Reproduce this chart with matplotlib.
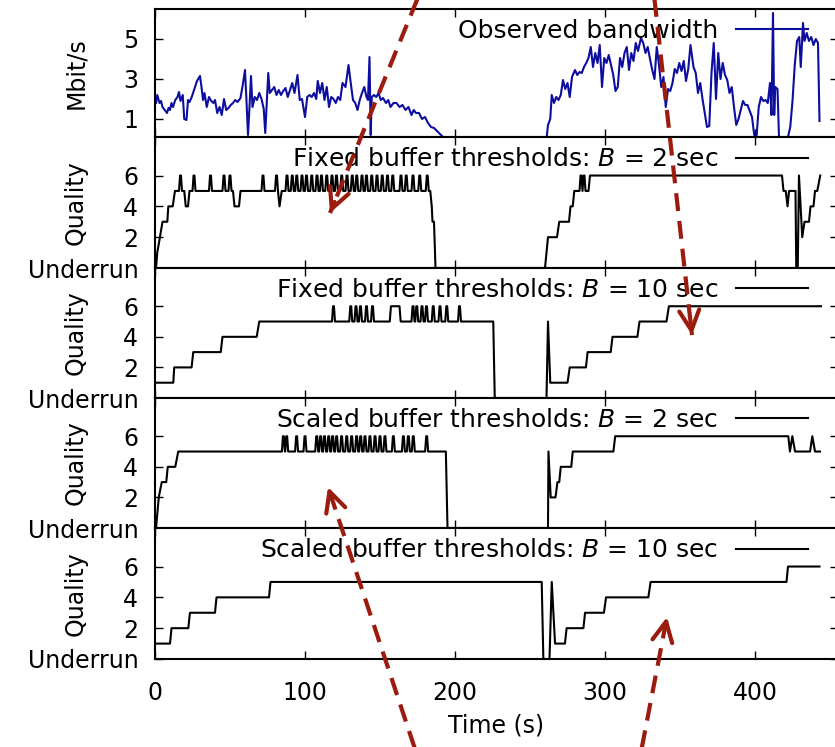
import matplotlib
matplotlib.use("Agg")
import matplotlib.pyplot as plt
from matplotlib.lines import Line2D
from matplotlib.patches import FancyArrowPatch

plt.rcParams['font.family'] = ['DejaVu Sans']
plt.rcParams['mathtext.fontset'] = 'dejavusans'

# observed bandwidth (Mbit/s) against time (s)
bw_t = [0.7, 1.5, 3, 4, 5, 6.5, 8, 9, 10, 11, 12, 13.5, 15, 16, 17, 18.5, 19.5, 21, 22, 23,
        24.5, 26, 28, 30, 31, 32, 33, 34.5, 36, 37.5, 39, 40, 41.5, 43, 44.5, 46, 47.5, 49,
        50.5, 52, 53.5, 55, 57, 58.5, 60, 61, 62, 63, 64, 65, 66.5, 68, 69.5, 71, 72.5, 73.5,
        75.5, 76.5, 78, 79.5, 81, 82.5, 84, 85.5, 87, 88.5, 90, 91.5, 93, 95, 96.5, 98, 100,
        101.5, 103, 104.5, 106, 107.5, 108.5, 110, 111.5, 113, 114.5, 116, 117.5, 119, 120.5,
        122, 123.5, 125, 127, 129, 130.5, 132, 133.5, 135, 136.5, 138, 139.5, 141, 142, 143,
        143.8, 144.5, 146, 147.5, 149, 150.5, 152, 154, 155.5, 157, 159, 161, 163, 165, 167,
        169, 171, 172.5, 174, 176, 178, 180, 182, 184, 186, 188, 190, 192, 193,
        261, 262, 263.5, 264.5, 266, 267.5, 269, 270.5, 272, 273.5, 275, 276.5, 278, 280,
        281.5, 283, 284.5, 286, 287.5, 289, 290.5, 292, 293.5, 295, 296.5, 298, 299.5, 301,
        302.5, 304, 305.5, 307, 308.5, 310, 311.5, 313, 314.5, 316, 317.5, 319, 320.5, 322,
        324, 325.5, 327, 328.5, 330, 331.5, 333, 334.5, 336, 337.5, 339, 340.5, 342, 343.5,
        345, 346.5, 348, 349.5, 351, 352.5, 354, 355.5, 357, 359, 360.5, 362, 363.5, 365,
        366.5, 368, 369.5, 371, 372.5, 374, 375.5, 377, 378.5, 380, 381.5, 383, 384.5, 386,
        387.5, 389, 390.5, 392, 393.5, 395, 396.5, 398, 399.5, 401, 402.5, 404, 405.5, 407,
        408.5, 410, 411, 412, 412.8, 413.5, 415, 416, 419, 422, 423.5, 425, 426.5, 428,
        429.5, 430.5, 432, 433, 434.5, 436, 437.5, 439, 440.5, 442, 443]
bw_v = [1.8, 2.2, 1.8, 1.9, 1.6, 1.45, 1.3, 1.55, 1.45, 1.8, 1.6, 1.95, 2.1, 2.35, 1.9, 2.2,
        1.0, 0.95, 1.95, 1.85, 2.1, 2.45, 2.9, 3.15, 2.6, 1.95, 2.3, 1.6, 2.1, 1.9, 1.8, 1.95,
        1.3, 1.6, 1.2, 2.0, 1.45, 1.55, 1.7, 1.8, 1.95, 1.85, 2.05, 2.7, 3.45, 1.9, 0.2, 1.6,
        3.15, 1.6, 2.1, 1.95, 2.3, 2.0, 1.5, 0.3, 3.3, 2.3, 2.45, 2.6, 2.2, 2.45, 2.2, 2.4,
        2.55, 2.1, 2.45, 2.8, 2.3, 3.2, 1.95, 2.0, 1.1, 2.1, 2.2, 2.1, 2.3, 2.0, 2.9, 2.3,
        2.8, 1.95, 2.6, 1.6, 2.1, 2.0, 1.8, 2.1, 1.95, 2.8, 2.6, 3.7, 2.8, 1.95, 1.8, 1.45,
        1.95, 2.3, 2.6, 2.1, 1.95, 4.1, 0.2, 2.1, 2.2, 2.1, 2.3, 1.95, 2.05, 1.8, 1.95, 1.6,
        1.8, 1.8, 1.6, 1.7, 1.45, 1.6, 1.2, 1.45, 1.3, 1.3, 1.0, 1.1, 0.8, 0.6, 0.55, 0.4,
        0.25, 0.1, 0.0,
        0.0, 0.7, 1.0, 2.2, 1.8, 2.1, 1.95, 2.2, 2.95, 2.5, 2.8, 2.1, 3.1, 3.45, 3.2, 3.35,
        3.3, 3.6, 3.8, 4.05, 4.6, 3.6, 4.3, 3.8, 4.7, 2.6, 4.05, 3.8, 4.2, 3.7, 3.2, 2.4, 2.6,
        4.05, 3.6, 4.3, 4.6, 3.45, 4.3, 3.9, 4.8, 4.4, 5.05, 4.8, 4.3, 4.6, 4.0, 3.45, 3.0,
        4.6, 3.7, 2.6, 3.1, 1.6, 2.5, 2.4, 2.8, 3.5, 3.3, 3.8, 3.4, 3.9, 2.9, 3.5, 4.7, 3.6,
        3.3, 2.3, 2.8, 2.0, 1.3, 0.6, 0.65, 3.3, 4.8, 2.0, 4.3, 3.0, 3.8, 3.2, 2.95, 2.3, 2.6,
        1.6, 0.7, 1.0, 1.45, 1.9, 1.7, 1.7, 1.4, 1.1, 0.2, 0.1, 1.6, 2.1, 1.9, 1.95, 1.8,
        2.8, 1.2, 6.3, 1.2, 2.6, 2.5, 0.1, 0.0, 0.1, 0.6, 1.9, 3.7, 4.9, 5.1, 3.6, 5.8, 4.9,
        5.3, 4.9, 5.1, 4.7, 5.0, 4.8, 0.9]

# quality level (0 = underrun) step breakpoints, plus short 5 -> 6 -> 5 excursions
fixed2_t = [0.7, 1.5, 3.3, 5, 8.2, 8.9, 11.8, 13.3, 19.5, 20.5, 22, 23, 52, 53, 56, 57, 82,
            83, 84.5, 183.5, 184.5, 185, 186, 187, 260, 261, 262, 268, 269.5, 276, 277,
            278.5, 279.5, 289, 290, 418, 419, 420.5, 421.7, 422.7, 427, 427.5, 428.5, 429.3,
            431.5, 433, 436, 437, 439, 440, 441.5, 443.5]
fixed2_q = [0, 1, 2, 3, 3, 4, 4, 5, 5, 4, 4, 5, 5, 4, 4, 5, 5,
            4, 5, 5, 4, 3, 3, 0, 0, 1, 2, 2, 3, 3, 4,
            4, 5, 5, 6, 6, 5, 5, 4, 5, 5, 0, 0, 6,
            2, 3, 3, 4, 4, 5, 5, 6]
fixed2_peaks = [17, 26, 37, 46, 50, 72, 81, 88, 91.5, 94.5, 98, 101, 104.5, 108, 111, 114.5,
                118, 121, 124.5, 128, 131.5, 134.5, 138, 141, 144.5, 148, 151.5, 155, 158.5,
                164, 167.5, 172, 176.5, 181.5, 284, 286]

fixed10_t = [0.7, 12.2, 12.8, 24.4, 25.5, 43.8, 45, 67.8, 69.5, 156.5, 157.3, 163, 163.8,
             225.5, 226.5, 261, 262, 263.5, 275, 276.5, 287.3, 288.4, 303.8, 305, 321.6,
             323, 341, 342.6, 444]
fixed10_q = [1, 1, 2, 2, 3, 3, 4, 4, 5, 5, 6, 6, 5,
             5, 0, 0, 5, 1, 1, 2, 2, 3, 3, 4, 4,
             5, 5, 6, 6]
fixed10_peaks = [119, 130.5, 134, 137, 141, 145, 172, 174.5, 178, 181, 185.5, 190, 194.5, 203]

scaled2_t = [0.7, 2.5, 4.5, 7.5, 8.5, 13.5, 15.5, 193.9, 195, 262, 262.3, 263.8, 267,
             268.3, 269.5, 270.5, 277.5, 278.5, 305.6, 306.8, 422.2, 423.3, 424.9, 426.7,
             436.7, 438.2, 440, 443.3]
scaled2_q = [0, 2, 3, 3, 4, 4, 5, 5, 0, 0, 5, 2, 2,
             3, 3, 4, 4, 5, 5, 6, 6, 5, 6, 5,
             5, 6, 5, 5]
scaled2_peaks = [85.6, 87.8, 94.4, 100, 107.8, 110.4, 113, 115.8, 118.4, 121.1, 124.4,
                 127.8, 131.1, 134.4, 137.1, 140, 143.3, 146.7, 150, 153.3, 158.9, 165.6,
                 168.9, 172.2, 181.1]

scaled10_t = [0.7, 10, 11, 22.2, 23.3, 40, 41, 76, 77, 257.8, 258.9, 263, 264.5, 266.7,
              273.3, 274.4, 285.6, 286.7, 299.3, 300.7, 328.9, 330.4, 421, 422, 443]
scaled10_q = [1, 1, 2, 2, 3, 3, 4, 4, 5, 5, 0, 0, 5, 1,
              1, 2, 2, 3, 3, 4, 4, 5, 5, 6, 6]

panel_labels = ['Fixed buffer thresholds: $B$ = 2 sec',
                'Fixed buffer thresholds: $B$ = 10 sec',
                'Scaled buffer thresholds: $B$ = 2 sec',
                'Scaled buffer thresholds: $B$ = 10 sec']
quality_ticks = [0, 2, 4, 6]
quality_ticklabels = ['Underrun', '2', '4', '6']
time_ticks = [0, 100, 200, 300, 400]


def with_peaks(ts, qs, peaks=()):
    # add a short excursion from quality 5 up to 6 and back around each peak time
    pts = list(zip(ts, qs))
    for p in peaks:
        pts += [(p - 1.0, 5), (p - 0.3, 6), (p + 0.3, 6), (p + 1.0, 5)]
    pts.sort()
    return [p[0] for p in pts], [p[1] for p in pts]


W, H = 835, 747
fig = plt.figure(figsize=(W / 100, H / 100), dpi=100)

left_px, right_px = 155, 837.5
rows_px = [(9, 137), (137, 268), (268, 398), (398, 528), (528, 659)]
axes = []
for top, bot in rows_px:
    ax = fig.add_axes([left_px / W, 1 - bot / H, (right_px - left_px) / W, (bot - top) / H])
    axes.append(ax)

FS = 17
blue = '#0d0d9e'
red = '#9b1b0e'

ax = axes[0]
ax.plot(bw_t, bw_v, color=blue, lw=1.5, label='Observed bandwidth')
ax.set_ylim(0.1, 6.5)
ax.set_yticks([1, 3, 5])
ax.set_ylabel('Mbit/s', fontsize=FS)

series = [with_peaks(fixed2_t, fixed2_q, fixed2_peaks),
          with_peaks(fixed10_t, fixed10_q, fixed10_peaks),
          with_peaks(scaled2_t, scaled2_q, scaled2_peaks),
          (scaled10_t, scaled10_q)]

for ax, (ts, qs), lab in zip(axes[1:], series, panel_labels):
    ax.plot(ts, qs, color='black', lw=1.5, label=lab)
    ax.set_ylim(0, 8.5)
    ax.set_yticks(quality_ticks)
    ax.set_yticklabels(quality_ticklabels)
    ax.set_ylabel('Quality', fontsize=FS)

for i, ax in enumerate(axes):
    ax.set_xlim(0, 455)
    ax.set_xticks(time_ticks)
    ax.tick_params(direction='in', top=True, right=True, length=6, width=1,
                   labelsize=FS, pad=12)
    ax.tick_params(axis='x', pad=16)
    if i < len(axes) - 1:
        ax.tick_params(labelbottom=False)
    for sp in ax.spines.values():
        sp.set_linewidth(1.5)
    ax.yaxis.set_label_coords(-0.098, 0.5)
    ax.legend(loc='center right', bbox_to_anchor=(0.957, 0.83), frameon=False,
              markerfirst=False, handlelength=2.9, handletextpad=0.7, borderpad=0,
              borderaxespad=0, fontsize=18)

axes[-1].set_xlabel('Time (s)', fontsize=FS, labelpad=6)

# dashed red callout arrows (tail, tip) in figure pixels
arrows_px = [((419, -5), (330, 213)),
             ((654, -5), (692, 335)),
             ((416, 752), (328, 487)),
             ((641, 752), (667, 617))]
for (x0, y0), (x1, y1) in arrows_px:
    tail = (x0 / W, 1 - y0 / H)
    tip = (x1 / W, 1 - y1 / H)
    fig.add_artist(Line2D([tail[0], tip[0]], [tail[1], tip[1]], transform=fig.transFigure,
                          color=red, lw=3, linestyle=(0, (4.3, 2.4)), zorder=10))
    dx, dy = x1 - x0, y1 - y0
    n = (dx * dx + dy * dy) ** 0.5
    bx, by = x1 - dx / n * 12, y1 - dy / n * 12
    fig.add_artist(FancyArrowPatch((bx / W, 1 - by / H), tip, transform=fig.transFigure,
                                   arrowstyle='->', mutation_scale=36, lw=3, color=red,
                                   shrinkA=0, shrinkB=0, zorder=10))

fig.savefig('out.png', dpi=100)
